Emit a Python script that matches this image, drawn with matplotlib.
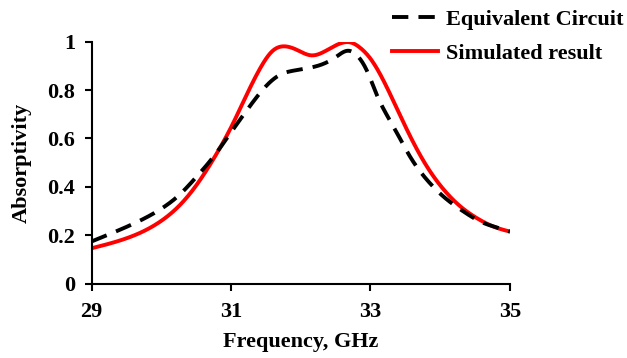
import numpy as np
import matplotlib
matplotlib.use("Agg")
import matplotlib.pyplot as plt

# simulated absorptivity (full-wave)
freq_sim = [29.0, 29.5, 30.0, 30.3, 30.56, 30.8, 31.0, 31.2, 31.42, 31.6, 31.78,
            31.95, 32.15, 32.35, 32.6, 32.72, 32.85, 33.0, 33.15, 33.33, 33.57,
            33.81, 34.05, 34.29, 34.53, 34.77, 35.0]
abs_sim = [0.147, 0.188, 0.26, 0.335, 0.43, 0.54, 0.645, 0.765, 0.89, 0.962, 0.98,
           0.965, 0.943, 0.96, 0.995, 0.996, 0.975, 0.93, 0.86, 0.755, 0.61,
           0.485, 0.39, 0.32, 0.271, 0.236, 0.216]

# equivalent circuit model
freq_ec = [29.0, 29.5, 30.0, 30.27, 30.5, 30.75, 31.0, 31.25, 31.5, 31.7, 31.9,
           32.1, 32.3, 32.5, 32.68, 32.8, 32.95, 33.1, 33.33, 33.57, 33.81,
           34.05, 34.34, 34.58, 34.87, 35.0]
abs_ec = [0.175, 0.235, 0.31, 0.37, 0.44, 0.525, 0.625, 0.725, 0.815, 0.862, 0.88,
          0.89, 0.905, 0.935, 0.962, 0.945, 0.88, 0.775, 0.65, 0.525, 0.43,
          0.36, 0.298, 0.257, 0.228, 0.216]

x_ticks = [29, 31, 33, 35]
y_ticks = [0, 0.2, 0.4, 0.6, 0.8, 1.0]
y_ticklabels = ["0", "0.2", "0.4", "0.6", "0.8", "1"]


def spline(x, y, n=600):
    # natural cubic spline, so the traces come out smooth like Excel's
    x = np.asarray(x, float)
    y = np.asarray(y, float)
    k = len(x)
    h = np.diff(x)
    A = np.zeros((k, k))
    b = np.zeros(k)
    A[0, 0] = A[-1, -1] = 1.0
    for i in range(1, k - 1):
        A[i, i - 1] = h[i - 1]
        A[i, i] = 2 * (h[i - 1] + h[i])
        A[i, i + 1] = h[i]
        b[i] = 6 * ((y[i + 1] - y[i]) / h[i] - (y[i] - y[i - 1]) / h[i - 1])
    M = np.linalg.solve(A, b)
    xs = np.linspace(x[0], x[-1], n)
    j = np.clip(np.searchsorted(x, xs) - 1, 0, k - 2)
    dx1 = x[j + 1] - xs
    dx0 = xs - x[j]
    hj = h[j]
    ys = (M[j] * dx1**3 + M[j + 1] * dx0**3) / (6 * hj) \
        + (y[j] / hj - M[j] * hj / 6) * dx1 + (y[j + 1] / hj - M[j + 1] * hj / 6) * dx0
    return xs, ys


plt.rcParams['font.family'] = 'Liberation Serif'
plt.rcParams['font.weight'] = 'bold'
fs = 16

fig = plt.figure(figsize=(6.27, 3.58), dpi=100)
ax = fig.add_axes([0.146, 0.207, 0.667, 0.677])

xe, ye = spline(freq_ec, abs_ec)
xs, ys = spline(freq_sim, abs_sim)
ax.plot(xe, ye, color='black', lw=2.8, dashes=(4.2, 2.6), label='Equivalent Circuit', zorder=3)
ax.plot(xs, ys, color='#ff0000', lw=2.8, label='Simulated result', zorder=2)

ax.set_xlim(29, 35)
ax.set_ylim(0, 1)
ax.set_xticks(x_ticks)
ax.set_yticks(y_ticks)
ax.set_yticklabels(y_ticklabels)
for s in ['top', 'right']:
    ax.spines[s].set_visible(False)
for s in ['left', 'bottom']:
    ax.spines[s].set_linewidth(1.5)
ax.tick_params(direction='out', length=5, width=1.5, labelsize=fs)
ax.tick_params(axis='x', pad=8)
ax.tick_params(axis='y', pad=7)
for lab in ax.get_xticklabels() + ax.get_yticklabels():
    lab.set_fontweight('bold')

ax.set_xlabel('Frequency, GHz', fontsize=fs, fontweight='bold', labelpad=7)
ax.set_ylabel('Absorptivity', fontsize=fs, fontweight='bold', labelpad=11)

leg = fig.legend(loc='upper left', bbox_to_anchor=(0.593, 1.03), frameon=False,
                 prop={'size': fs, 'weight': 'bold'}, handlelength=2.1,
                 handletextpad=0.33, labelspacing=0.6)

fig.savefig('out.png', dpi=100)
